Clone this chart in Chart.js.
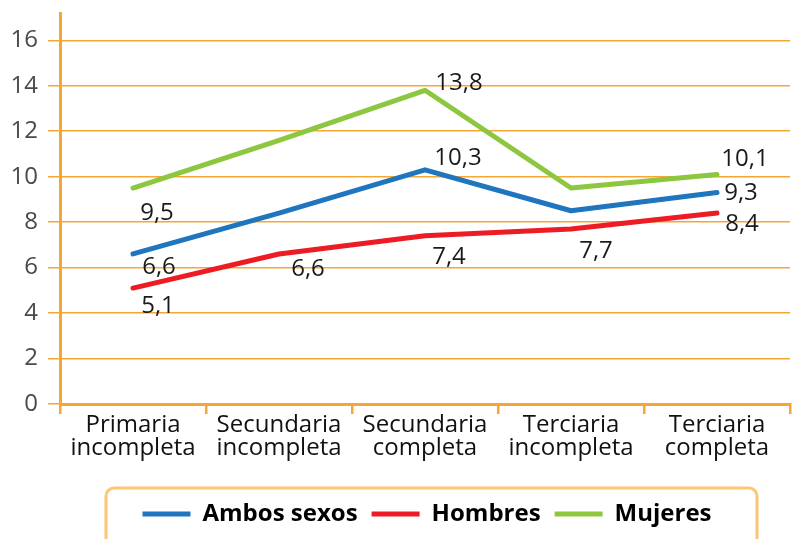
<!DOCTYPE html>
<html>
<head>
<meta charset="utf-8">
<script src="https://cdn.jsdelivr.net/npm/chart.js@4"></script>
<style>
  html, body { margin: 0; padding: 0; background: #fff; }
</style>
</head>
<body>
<canvas id="chartEducacion" width="804" height="539"></canvas>
<script>
// datos
const categorias = [
    ["Primaria", "incompleta"],
    ["Secundaria", "incompleta"],
    ["Secundaria", "completa"],
    ["Terciaria", "incompleta"],
    ["Terciaria", "completa"],
];
const series = ["Ambos sexos", "Hombres", "Mujeres"];
const ambosSexos = [6.6, 8.4, 10.3, 8.5, 9.3];
const hombres = [5.1, 6.6, 7.4, 7.7, 8.4];
const mujeres = [9.5, 11.6, 13.8, 9.5, 10.1];
const yTicks = [0, 2, 4, 6, 8, 10, 12, 14, 16];

// which points carry a value label, and where it sits (dx, dy from the point)
const posEtiquetas = [
    { 0: [26, 13], 2: [33, -12], 4: [24, 1] },
    { 0: [25, 18], 1: [29, 15], 2: [24, 21], 3: [25, 22], 4: [25, 11] },
    { 0: [24, 25], 2: [34, -7], 4: [28, -15] },
];

const naranja = "rgb(247, 166, 52)";
const fuente = "'Open Sans', sans-serif";

const etiquetasPlugin = {
    id: "etiquetas",
    afterLayout(chart) {
        // legend sits a little right of the plot centre
        chart.legend.left = chart.chartArea.left + 2;
        chart.legend.right = chart.chartArea.right + 2;
    },
    afterDatasetsDraw(chart) {
        const ctx = chart.ctx;
        ctx.save();
        ctx.font = "24px " + fuente;
        ctx.fillStyle = "#1a1a1a";
        ctx.textAlign = "center";
        ctx.textBaseline = "middle";
        chart.data.datasets.forEach((ds, i) => {
            const meta = chart.getDatasetMeta(i);
            Object.keys(posEtiquetas[i]).forEach((k) => {
                const p = meta.data[k];
                const [dx, dy] = posEtiquetas[i][k];
                const txt = String(ds.data[k]).replace(".", ",");
                ctx.fillText(txt, p.x + dx, p.y + dy);
            });
        });
        ctx.restore();
    },
    afterDraw(chart) {
        const lg = chart.legend;
        const ctx = chart.ctx;
        const cx = (lg.left + lg.right) / 2 + 4;
        const x0 = cx - 325, x1 = cx + 326;
        const y0 = lg.top, y1 = chart.height + 20;
        ctx.save();
        ctx.strokeStyle = "rgb(252, 198, 115)";
        ctx.lineWidth = 3;
        ctx.beginPath();
        ctx.roundRect(x0, y0, x1 - x0, y1 - y0, 8);
        ctx.stroke();
        ctx.restore();
    },
};

const ctxChart = document.getElementById("chartEducacion");
new Chart(ctxChart, {
    type: "line",
    data: {
        labels: categorias,
        datasets: [
            { label: series[0], data: ambosSexos, borderColor: "rgb(31, 117, 190)" },
            { label: series[1], data: hombres, borderColor: "rgb(237, 28, 36)" },
            { label: series[2], data: mujeres, borderColor: "rgb(141, 198, 63)" },
        ].map((d) => Object.assign(d, {
            backgroundColor: d.borderColor,
            borderWidth: 5,
            borderCapStyle: "round",
            borderJoinStyle: "round",
            pointRadius: 0,
            tension: 0,
        })),
    },
    options: {
        responsive: false,
        animation: false,
        devicePixelRatio: 1,
        layout: { padding: { left: 11, right: 14, top: 13, bottom: 3 } },
        plugins: {
            tooltip: { enabled: false },
            legend: {
                position: "bottom",
                labels: {
                    usePointStyle: true,
                    pointStyle: "line",
                    pointStyleWidth: 48,
                    padding: 14,
                    color: "#000",
                    font: { family: fuente, size: 24, weight: "bold" },
                },
            },
        },
        scales: {
            x: {
                offset: true,
                grid: {
                    offset: true,
                    drawOnChartArea: false,
                    drawTicks: true,
                    tickLength: 10,
                    color: naranja,
                    lineWidth: 2.5,
                },
                border: { color: naranja, width: 3 },
                ticks: {
                    color: "#111",
                    padding: 0,
                    maxRotation: 0,
                    autoSkip: false,
                    font: { family: fuente, size: 24, lineHeight: 0.96 },
                },
                afterFit(scale) {
                    scale.height = 84;
                    scale.paddingLeft = 0;
                    scale.paddingRight = 0;
                },
            },
            y: {
                min: 0,
                max: 17.2,
                afterBuildTicks(scale) {
                    scale.ticks = yTicks.map((v) => ({ value: v }));
                },
                afterFit(scale) {
                    scale.width = 49;
                    scale.paddingTop = 0;
                    scale.paddingBottom = 0;
                },
                grid: { color: naranja, lineWidth: 1.5, tickLength: 12 },
                border: { color: naranja, width: 3 },
                ticks: {
                    color: "#4a4a4a",
                    padding: 10,
                    font: { family: fuente, size: 24 },
                },
            },
        },
    },
    plugins: [etiquetasPlugin],
});
</script>
</body>
</html>
